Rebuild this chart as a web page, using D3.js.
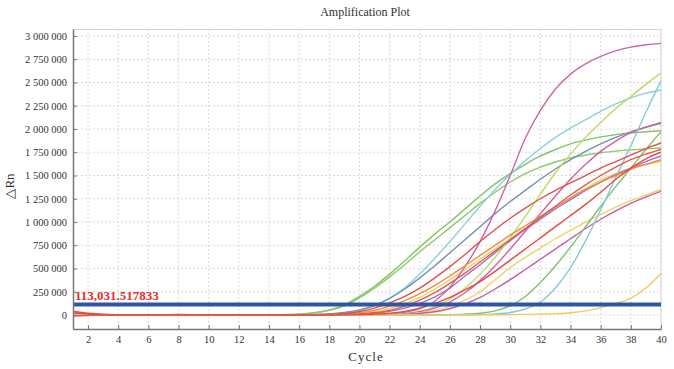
<!DOCTYPE html>
<html>
<head>
<meta charset="utf-8">
<script src="https://cdn.jsdelivr.net/npm/d3@7"></script>
<style>
body { margin: 0; background: #fff; }
svg text { font-family: "Liberation Serif", "Times New Roman", serif; fill: #333; }
</style>
</head>
<body>
<div id="chart"></div>
<script>
// cycles and tick labels
var cycles = [1,2,3,4,5,6,7,8,9,10,11,12,13,14,15,16,17,18,19,20,21,22,23,24,25,26,27,28,29,30,31,32,33,34,35,36,37,38,39,40];
var xTicks = [2,4,6,8,10,12,14,16,18,20,22,24,26,28,30,32,34,36,38,40];
var yTicks = [0,250000,500000,750000,1000000,1250000,1500000,1750000,2000000,2250000,2500000,2750000,3000000];
var threshold = 113031.517833;
var thresholdLabel = "113,031.517833";

// delta Rn per cycle, in thousands
var greenG1  = [0,0,0,0,0,0,0,0,0,0, 0,0,0,2,5,10,25,55,110,200, 310,440,580,730,870,1000,1140,1280,1410,1520, 1620,1710,1780,1840,1880,1915,1940,1958,1970,1980];
var greenG2  = [0,0,0,0,0,0,0,0,0,0, 0,0,0,2,4,9,22,50,100,185, 290,410,540,680,810,940,1070,1200,1320,1430, 1520,1590,1645,1690,1720,1745,1762,1776,1786,1795];
var cyanD    = [0,0,0,0,0,0,0,0,0,0, 0,0,0,0,1,2,5,10,25,50, 100,180,290,440,610,790,980,1170,1350,1510, 1660,1790,1910,2010,2100,2190,2270,2335,2385,2420];
var tealT    = [0,0,0,0,0,0,0,0,0,0, 0,0,0,0,1,2,5,12,28,55, 105,180,280,400,530,670,810,950,1090,1220, 1340,1460,1570,1670,1760,1840,1910,1970,2020,2060];
var yellowY1 = [0,0,0,0,0,0,0,0,0,0, 0,0,0,0,0,1,2,4,9,18, 35,70,120,190,280,380,490,600,710,820, 930,1040,1150,1260,1360,1450,1520,1580,1620,1650];
var purpleP1 = [0,0,0,0,0,0,0,0,0,0, 0,0,0,0,0,0,1,2,5,10, 20,40,75,125,195,290,420,540,670,800, 920,1030,1140,1240,1340,1430,1510,1580,1650,1710];
var magentaA = [0,0,0,0,0,0,0,0,0,0, 0,0,0,0,0,0,1,1,2,4, 7,12,30,70,150,300,520,790,1120,1500, 1900,2200,2430,2590,2700,2780,2840,2880,2905,2920];
var ygreenB  = [0,0,0,0,0,0,0,0,0,0, 0,0,0,0,0,0,0,0,1,2, 3,6,15,40,90,170,290,440,620,830, 1060,1300,1530,1730,1910,2070,2220,2350,2480,2600];
var magentaE = [0,0,0,0,0,0,0,0,0,0, 0,0,0,0,0,0,0,0,1,2, 3,6,15,35,75,140,240,370,530,710, 900,1090,1280,1460,1620,1760,1870,1960,2020,2070];
var yellowY3 = [0,0,0,0,0,0,0,0,0,0, 0,0,0,0,0,0,0,0,0,1, 3,6,12,25,50,95,160,250,380,510, 620,720,820,910,1000,1080,1160,1230,1290,1350];
var magentaM = [0,0,0,0,0,0,0,0,0,0, 0,0,0,0,0,0,0,0,0,0, 1,3,8,18,35,70,120,190,280,380, 490,600,710,820,930,1030,1120,1200,1270,1330];
var greenG3  = [0,0,0,0,0,0,0,0,0,0, 0,0,0,0,0,0,0,0,0,0, 0,1,1,2,3,5,10,20,45,100, 200,350,530,730,950,1170,1380,1580,1780,1970];
var cyanC    = [0,0,0,0,0,0,0,0,0,0, 0,0,0,0,0,0,0,0,0,0, 0,0,0,0,1,2,3,6,12,28, 65,140,290,510,800,1130,1480,1820,2180,2520];
var yellowY4 = [0,0,0,0,0,0,0,0,0,0, 0,0,0,0,0,0,0,0,0,0, 0,0,0,0,0,0,1,2,3,5, 7,10,15,25,45,80,125,180,290,448];
var orangeO  = [30,14,5,1,0,0,1,3,2,0, 0,0,0,0,0,1,3,6,12,25, 50,95,155,230,320,420,530,640,750,860, 960,1060,1160,1260,1350,1430,1500,1570,1620,1670];
var redR1    = [42,20,8,3,1,0,2,6,4,1, 0,0,0,0,1,2,4,8,18,38, 75,130,200,290,400,520,650,790,920,1040, 1150,1250,1340,1420,1500,1580,1650,1720,1790,1850];
var redR2    = [25,12,4,1,0,0,1,2,1,0, 0,0,0,0,0,0,0,1,3,5, 10,20,40,75,125,190,270,360,470,590, 710,830,950,1070,1190,1320,1460,1580,1680,1750];
var redR3    = [-10,-5,-2,0,0,0,1,2,1,0, 0,0,0,0,0,0,1,3,6,12, 25,50,95,160,240,340,450,570,690,810, 930,1050,1170,1290,1400,1500,1590,1670,1730,1780];

var series = [
  {values: greenG1, color: "#82c466"},
  {values: greenG2, color: "#8cc96c"},
  {values: cyanD, color: "#8dd0dc"},
  {values: tealT, color: "#7193b5"},
  {values: yellowY1, color: "#f2d060"},
  {values: purpleP1, color: "#9d72cf"},
  {values: magentaA, color: "#d064a8"},
  {values: ygreenB, color: "#bfd95e"},
  {values: magentaE, color: "#d45f9e"},
  {values: yellowY3, color: "#f1d267"},
  {values: magentaM, color: "#c95aa0"},
  {values: greenG3, color: "#80c26c"},
  {values: cyanC, color: "#82ccda"},
  {values: yellowY4, color: "#f2c95c"},
  {values: orangeO, color: "#ef8a40"},
  {values: redR1, color: "#e0504c"},
  {values: redR2, color: "#e64a3e"},
  {values: redR3, color: "#de5a52"}
];

var margin = {top: 29, right: 13, bottom: 40, left: 73},
width = 674 - margin.left - margin.right,
height = 369 - margin.top - margin.bottom;

var root = d3.select("#chart")
.append("svg")
.attr("width", 674)
.attr("height", 369);

var svg = root.append("g")
.attr("transform", "translate(" + margin.left + "," + margin.top + ")");

var x = d3.scaleLinear().domain([1, 40]).range([0, width]);
var y = d3.scaleLinear().domain([-150000, 3075000]).range([height, 0]);

var fmt = d3.formatLocale({decimal: ".", thousands: " ", grouping: [3], currency: ["", ""]}).format(",");

// title
root.append("text")
    .attr("x", 365).attr("y", 16)
    .attr("text-anchor", "middle")
    .style("font-size", "12px")
    .text("Amplification Plot");

// grid
svg.append("g").selectAll("line")
    .data(xTicks).enter().append("line")
    .attr("x1", d => x(d)).attr("x2", d => x(d))
    .attr("y1", 0).attr("y2", height)
    .attr("stroke", "#dadada").attr("stroke-dasharray", "2,2");
svg.append("g").selectAll("line")
    .data(yTicks).enter().append("line")
    .attr("x1", 0).attr("x2", width)
    .attr("y1", d => y(d)).attr("y2", d => y(d))
    .attr("stroke", "#dadada").attr("stroke-dasharray", "2,2");

// frame top / right
svg.append("path")
    .attr("d", "M0,0.5H" + width + "V" + height)
    .attr("fill", "none").attr("stroke", "#d4d4d4");

// curves
svg.append("clipPath").attr("id", "clip")
    .append("rect").attr("width", width).attr("height", height);

var line = d3.line()
    .x((d, i) => x(cycles[i]))
    .y(d => y(d * 1000))
    .curve(d3.curveMonotoneX);

svg.append("g").attr("clip-path", "url(#clip)")
    .selectAll("path")
    .data(series).enter().append("path")
    .attr("d", d => line(d.values))
    .attr("fill", "none")
    .attr("stroke", d => d.color)
    .attr("stroke-width", 1.4);

// threshold
svg.append("line")
    .attr("x1", 0).attr("x2", width)
    .attr("y1", y(threshold)).attr("y2", y(threshold))
    .attr("stroke", "#2f56a6").attr("stroke-width", 4);
svg.append("text")
    .attr("x", 2).attr("y", y(threshold) - 5)
    .style("font-size", "13px").style("font-weight", "bold")
    .style("fill", "#e3302d")
    .text(thresholdLabel);

// axes
var yAxis = svg.append("g")
    .call(d3.axisLeft(y).tickValues(yTicks).tickFormat(fmt).tickSize(-4).tickSizeOuter(0).tickPadding(6));
var xAxis = svg.append("g")
    .attr("transform", "translate(0," + height + ")")
    .call(d3.axisBottom(x).tickValues(xTicks).tickSize(-4).tickSizeOuter(0).tickPadding(7));
[yAxis, xAxis].forEach(function(a) {
    a.select(".domain").attr("stroke", "#777").attr("stroke-width", 1.5);
    a.selectAll(".tick line").attr("stroke", "#777");
    a.selectAll("text").style("font-size", "10.5px").style("font-family", "'Liberation Serif', serif").attr("fill", "#333");
});

// axis labels
root.append("text")
    .attr("transform", "translate(14,186)rotate(-90)")
    .attr("text-anchor", "middle")
    .style("font-size", "13px")
    .text("\u25B3Rn");
root.append("text")
    .attr("x", 366).attr("y", 361)
    .attr("text-anchor", "middle")
    .style("font-size", "13px")
    .style("letter-spacing", "1px")
    .text("Cycle");
</script>
</body>
</html>
